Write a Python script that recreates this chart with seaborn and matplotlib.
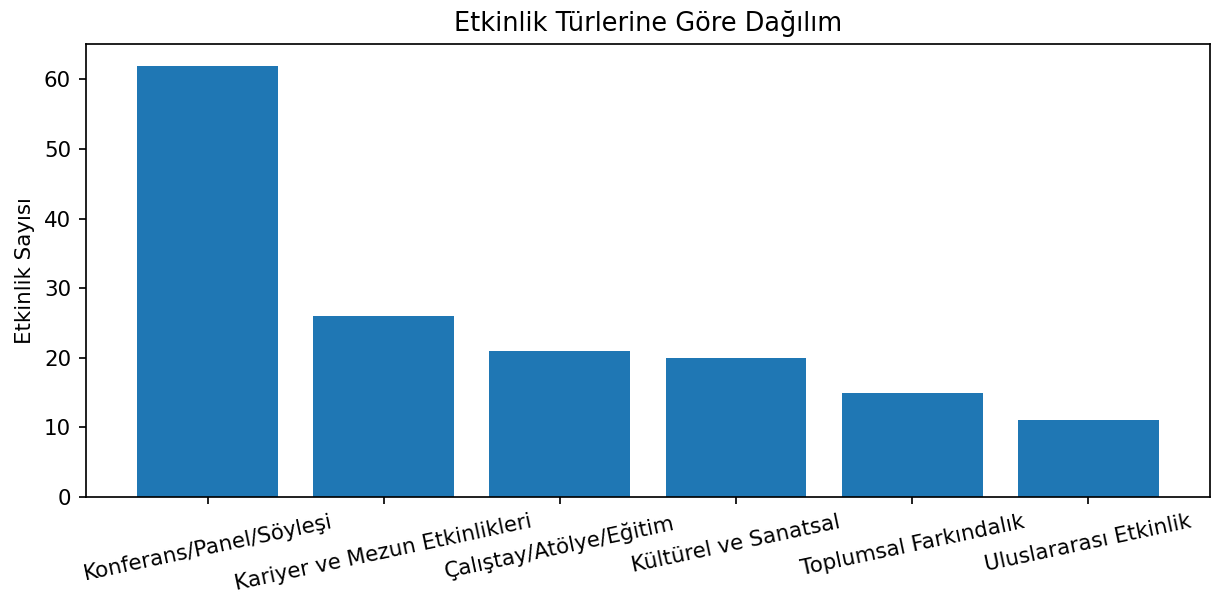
import matplotlib
matplotlib.use("Agg")
import matplotlib.pyplot as plt
import seaborn as sns
import pandas as pd

# event types and counts
categories = [
    "Konferans/Panel/Söyleşi",
    "Kariyer ve Mezun Etkinlikleri",
    "Çalıştay/Atölye/Eğitim",
    "Kültürel ve Sanatsal",
    "Toplumsal Farkındalık",
    "Uluslararası Etkinlik",
]
counts = [62, 26, 21, 20, 15, 11]

df = pd.DataFrame({"tur": categories, "sayi": counts})

dpi = 153.6
fig, ax = plt.subplots(figsize=(1216 / dpi, 593 / dpi), dpi=dpi)
sns.barplot(data=df, x="tur", y="sayi", color="#1f77b4", saturation=1,
            width=0.8, ax=ax)

ax.set_title("Etkinlik Türlerine Göre Dağılım", fontsize=12)
ax.set_xlabel("")
ax.set_ylabel("Etkinlik Sayısı")
# same padding as plain matplotlib bars (5% margin)
ax.set_xlim(-0.69, len(categories) - 1 + 0.69)
ax.set_ylim(0, max(counts) * 1.05)
plt.xticks(rotation=12)

fig.subplots_adjust(left=0.0707, right=0.995, top=0.9258, bottom=0.162)
plt.savefig("out.png", dpi=dpi)
plt.close()
